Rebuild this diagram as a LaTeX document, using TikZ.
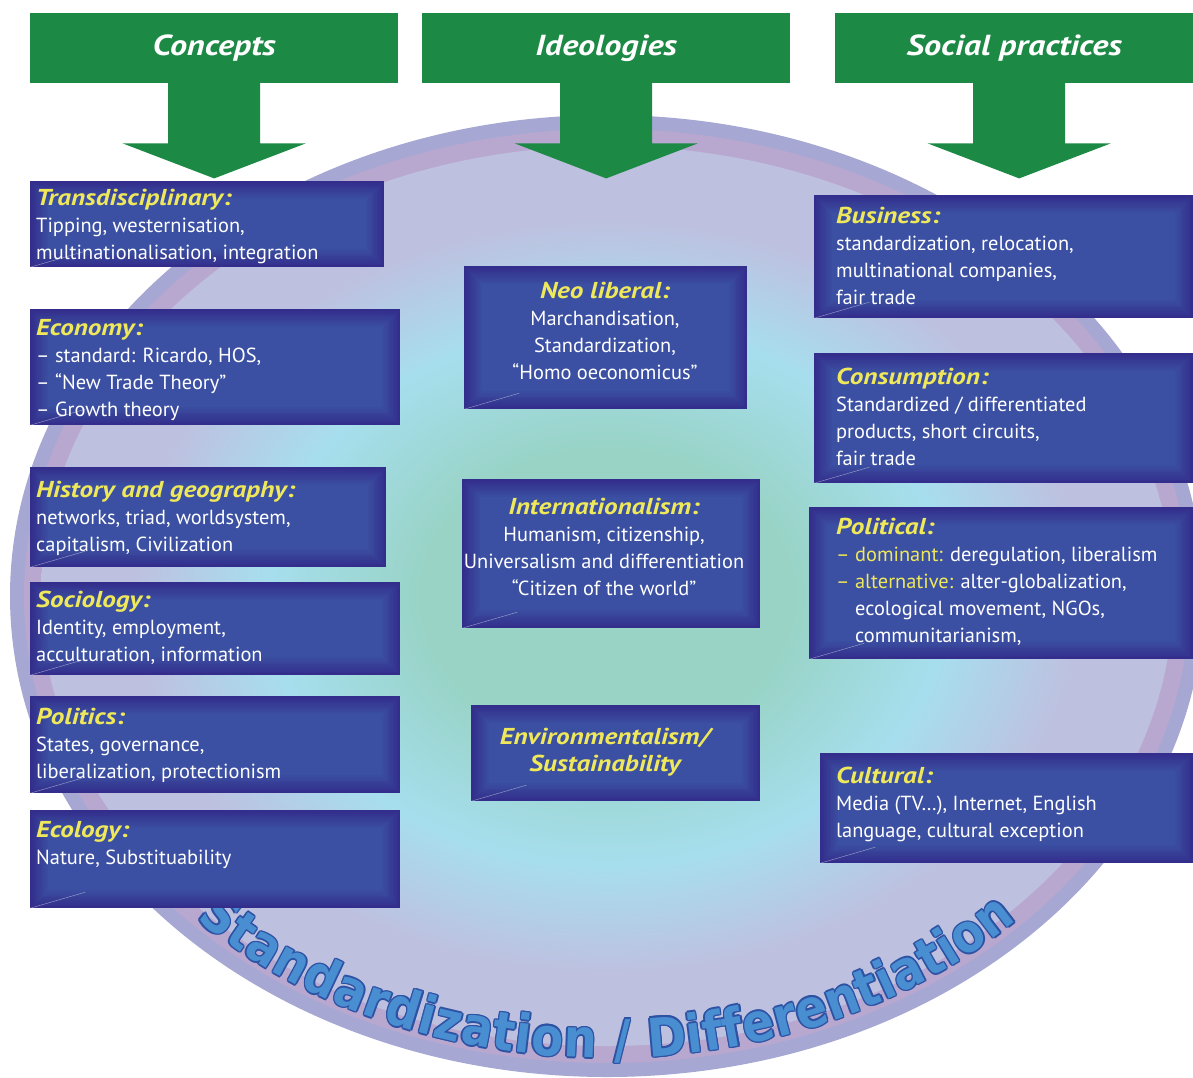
\documentclass[tikz,border=0pt]{standalone}
\usepackage{fontspec}
\setmainfont{PT Sans}
\newfontfamily\ttlfamily{PT Sans}[FakeStretch=1.18]
\newfontfamily\curvefamily{DejaVu Sans Bold}[FakeStretch=0.88]
\usetikzlibrary{calc,decorations.text}
\definecolor{hdrgreen}{HTML}{1C8945}
\definecolor{ytext}{HTML}{EEE85A}
\definecolor{boxe}{HTML}{332D8B}
\definecolor{boxc}{HTML}{3B50A2}
\definecolor{ringout}{HTML}{A6A7D3}
\definecolor{ringpink}{HTML}{B8A8D0}
\definecolor{clav}{HTML}{BEC0E0}
\definecolor{ccyan}{HTML}{A7DEEE}
\definecolor{cgreen}{HTML}{98D3C5}
\definecolor{cfill}{HTML}{4A8ED2}
\definecolor{cdark}{HTML}{2E52A3}
\pgfdeclareradialshading{ellshade}{\pgfpoint{0bp}{0bp}}{color(0bp)=(cgreen); color(8bp)=(cgreen); color(15bp)=(ccyan); color(21bp)=(clav); color(25bp)=(clav); color(50bp)=(clav)}
\newcommand\bodyfont{\fontsize{20.4}{27}\selectfont}
\newcommand\ttl[1]{{\ttlfamily\fontsize{23}{27}\selectfont\bfseries\itshape\color{ytext}#1}}
\newcommand\yl[1]{{\color{ytext}#1}}
\newcommand\hdrarrow[2]{%
  \fill[hdrgreen] ($(#1.south)+(#2-46,-1)$) -- ($(#1.south)+(#2-46,60)$) -- ($(#1.south)+(#2-91.5,60)$) -- ($(#1.south)+(#2,95)$) -- ($(#1.south)+(#2+91.5,60)$) -- ($(#1.south)+(#2+46,60)$) -- ($(#1.south)+(#2+46,-1)$) -- cycle;}
\tikzset{
  hdr/.style={fill=hdrgreen, text=white, font=\ttlfamily\fontsize{29}{30}\selectfont\bfseries\itshape, minimum width=#1, minimum height=70pt, anchor=north west, inner sep=0},
  box/.style={fill=boxe, anchor=north west, inner sep=0,
    path picture={
      \foreach \i [evaluate=\i as \p using int(\i*10)] in {1,...,10}
        \fill[boxc!\p!boxe] ([shift={(\i*1.8pt,\i*1.8pt)}]path picture bounding box.south west) rectangle ([shift={(-\i*1.8pt,-\i*1.8pt)}]path picture bounding box.north east);
      \draw[white, opacity=0.45, line width=0.5pt] (path picture bounding box.south west) -- ++(55pt,16pt);
    }},
  body/.style={text=white, font=\bodyfont, align=left, inner sep=0, anchor=north west},
  bodyc/.style={text=white, font=\bodyfont, align=center, inner sep=0, anchor=north},
  curvetxt/.style={decorate, decoration={text along path, text align=fit to path,
    text={|\curvefamily\fontsize{53}{53}\selectfont\color{#1}|Standardization / Differentiation}}}
}
\begin{document}
\begin{tikzpicture}[x=1pt,y=-1pt]
\useasboundingbox (0,0) rectangle (1193,1077);
% globe
\fill[ringout] (607,596) ellipse[x radius=597, y radius=481];
\fill[ringpink] (607,596) ellipse[x radius=583, y radius=467];
\shade[shading=ellshade] (607,596) ellipse[x radius=566, y radius=450];
% curved text
\coordinate (cstart) at ($(607,596)+(135.6:575 and 462)$);
\foreach \a in {0,45,...,315}
  \path[curvetxt=cdark] ([shift={(\a:1.5pt)}]cstart) arc[start angle=135.6, end angle=44.5, x radius=575, y radius=462];
\path[curvetxt=cfill] (cstart) arc[start angle=135.6, end angle=44.5, x radius=575, y radius=462];
% headers
\node[hdr=368pt] (hC) at (30,13) {Concepts};
\node[hdr=368pt] (hI) at (422,13) {Ideologies};
\node[hdr=358pt] (hS) at (835,13) {Social practices};
\hdrarrow{hC}{0}
\hdrarrow{hI}{0}
\hdrarrow{hS}{5}
% left column
\node[box, minimum width=354pt, minimum height=86pt] (bT) at (30,181) {};
\node[body] (tT) at (36,189) {\ttl{Transdisciplinary:}\\Tipping, westernisation,\\multinationalisation, integration};
\node[box, minimum width=370pt, minimum height=116pt] (bE) at (30,309) {};
\node[body] (tE) at (36,319) {\ttl{Economy:}\\– standard: Ricardo, HOS,\\– “New Trade Theory”\\– Growth theory};
\node[box, minimum width=356pt, minimum height=100pt] (bH) at (30,467) {};
\node[body] (tH) at (36,481) {\ttl{History and geography:}\\networks, triad, worldsystem,\\capitalism, Civilization};
\node[box, minimum width=370pt, minimum height=93pt] (bS) at (30,582) {};
\node[body] (tS) at (36,591) {\ttl{Sociology:}\\Identity, employment,\\acculturation, information};
\node[box, minimum width=370pt, minimum height=97pt] (bP) at (30,696) {};
\node[body] (tP) at (36,708) {\ttl{Politics:}\\States, governance,\\liberalization, protectionism};
\node[box, minimum width=370pt, minimum height=98pt] (bC) at (30,810) {};
\node[body] (tC) at (36,821) {\ttl{Ecology:}\\Nature, Substituability};
% middle column
\node[box, minimum width=283pt, minimum height=143pt] (bN) at (464,266) {};
\node[bodyc] (tN) at (605,282) {\ttl{Neo liberal:}\\Marchandisation,\\Standardization,\\“Homo oeconomicus”};
\node[box, minimum width=298pt, minimum height=149pt] (bI) at (462,479) {};
\node[bodyc] (tI) at (604,498) {\ttl{Internationalism:}\\Humanism, citizenship,\\Universalism and differentiation\\“Citizen of the world”};
\node[box, minimum width=289pt, minimum height=96pt] (bV) at (471,705) {};
\node[bodyc] (tV) at (605,728) {\ttl{Environmentalism/}\\\ttl{Sustainability}};
% right column
\node[box, minimum width=379pt, minimum height=123pt] (bB) at (814,195) {};
\node[body] (tB) at (836,207) {\ttl{Business:}\\standardization, relocation,\\multinational companies,\\fair trade};
\node[box, minimum width=379pt, minimum height=130pt] (bK) at (814,353) {};
\node[body] (tK) at (836,368) {\ttl{Consumption:}\\Standardized / differentiated\\products, short circuits,\\fair trade};
\node[box, minimum width=384pt, minimum height=152pt] (bL) at (809,507) {};
\node[body] (tL) at (836,518) {\ttl{Political:}\\\yl{– dominant:} deregulation, liberalism\\\yl{– alternative:} alter-globalization,\\\phantom{– }ecological movement, NGOs,\\\phantom{– }communitarianism,};
\node[box, minimum width=373pt, minimum height=110pt] (bU) at (820,753) {};
\node[body] (tU) at (836,767) {\ttl{Cultural:}\\Media (TV…), Internet, English\\language, cultural exception};
\end{tikzpicture}
\end{document}
